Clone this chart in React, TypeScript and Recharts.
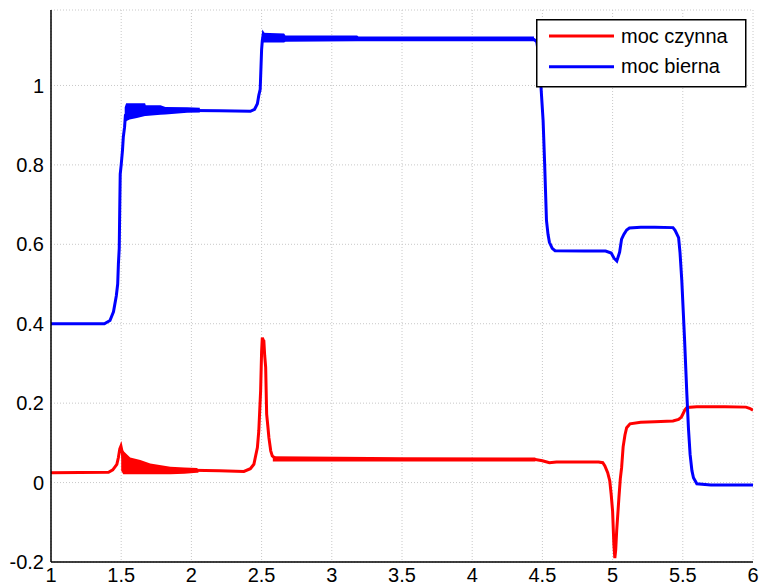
import React from 'react';
import { ComposedChart, Line, Area, XAxis, YAxis, CartesianGrid, Legend } from 'recharts';

// time axis ticks and value axis ticks
const xTicks = [1, 1.5, 2, 2.5, 3, 3.5, 4, 4.5, 5, 5.5, 6];
const yTicks = [-0.2, 0, 0.2, 0.4, 0.6, 0.8, 1];

// series names
const seriesNames = ['moc czynna', 'moc bierna'];

// moc czynna (active power): [t, value]
const mocCzynna: [number, number][] = [
  [1.0, 0.025], [1.41, 0.026], [1.44, 0.032], [1.469, 0.046], [1.48, 0.063], [1.49, 0.085],
  [1.498, 0.092], [1.505, 0.08], [1.515, 0.06], [1.53, 0.045], [1.6, 0.04], [1.7, 0.035],
  [1.85, 0.032], [2.0, 0.031], [2.2, 0.03], [2.374, 0.028], [2.42, 0.035], [2.445, 0.046],
  [2.47, 0.088], [2.48, 0.13], [2.493, 0.231], [2.5, 0.33], [2.505, 0.365], [2.51, 0.36],
  [2.516, 0.357], [2.522, 0.32], [2.529, 0.29], [2.536, 0.172], [2.545, 0.14], [2.552, 0.113],
  [2.565, 0.08], [2.576, 0.067], [2.6, 0.06], [3.0, 0.059], [3.5, 0.058], [4.0, 0.058],
  [4.45, 0.058], [4.5, 0.055], [4.55, 0.05], [4.6, 0.052], [4.9, 0.052], [4.93, 0.05],
  [4.945, 0.042], [4.965, 0.025], [4.98, 0.004], [4.99, -0.03], [5.0, -0.072], [5.009, -0.156],
  [5.016, -0.19], [5.022, -0.17], [5.029, -0.122], [5.045, -0.038], [5.055, 0.01], [5.064, 0.037],
  [5.075, 0.09], [5.088, 0.12], [5.1, 0.138], [5.124, 0.148], [5.2, 0.152], [5.3, 0.153],
  [5.43, 0.155], [5.47, 0.159], [5.49, 0.165], [5.5, 0.172], [5.515, 0.183], [5.53, 0.189],
  [5.6, 0.191], [5.8, 0.191], [5.95, 0.19], [5.975, 0.187], [6.0, 0.182],
];

// moc bierna (reactive power): [t, value]
const mocBierna: [number, number][] = [
  [1.0, 0.4], [1.38, 0.4], [1.42, 0.408], [1.445, 0.43], [1.465, 0.47], [1.475, 0.5],
  [1.48, 0.55], [1.486, 0.59], [1.49, 0.7], [1.493, 0.777], [1.5, 0.8], [1.509, 0.836],
  [1.515, 0.87], [1.524, 0.895], [1.53, 0.925], [1.56, 0.933], [1.6, 0.935], [1.7, 0.937],
  [1.8, 0.937], [2.0, 0.937], [2.2, 0.936], [2.42, 0.935], [2.45, 0.94], [2.47, 0.954],
  [2.48, 0.975], [2.49, 0.99], [2.495, 1.04], [2.5, 1.09], [2.505, 1.113], [2.512, 1.13],
  [2.53, 1.12], [3.0, 1.118], [3.5, 1.117], [4.0, 1.117], [4.44, 1.116], [4.46, 1.11],
  [4.48, 1.06], [4.49, 0.996], [4.505, 0.912], [4.516, 0.803], [4.529, 0.66], [4.54, 0.625],
  [4.55, 0.605], [4.57, 0.59], [4.59, 0.584], [4.8, 0.583], [4.95, 0.583], [4.99, 0.578],
  [5.01, 0.565], [5.03, 0.558], [5.05, 0.58], [5.064, 0.613], [5.08, 0.625], [5.1, 0.636],
  [5.12, 0.641], [5.2, 0.643], [5.3, 0.643], [5.43, 0.642], [5.445, 0.635], [5.47, 0.617],
  [5.48, 0.58], [5.493, 0.508], [5.512, 0.365], [5.529, 0.222], [5.54, 0.138], [5.552, 0.071],
  [5.565, 0.03], [5.576, 0.012], [5.6, -0.003], [5.7, -0.006], [6.0, -0.006],
];

// oscillation envelopes: [t, low, high]
const czynnaBand: [number, number, number][] = [
  [1.5, 0.03, 0.09], [1.515, 0.021, 0.08], [1.529, 0.021, 0.075], [1.564, 0.021, 0.063],
  [1.636, 0.021, 0.057], [1.707, 0.021, 0.048], [1.85, 0.021, 0.04], [1.95, 0.022, 0.038],
  [2.04, 0.025, 0.037], [2.05, 0.025, 0.033],
];
const czynnaBand2: [number, number, number][] = [
  [2.58, 0.053, 0.066], [3.5, 0.053, 0.064], [4.45, 0.053, 0.063],
];
const biernaBand: [number, number, number][] = [
  [1.525, 0.905, 0.945], [1.535, 0.91, 0.955], [1.56, 0.914, 0.955], [1.612, 0.918, 0.955],
  [1.67, 0.923, 0.955], [1.675, 0.923, 0.95], [1.78, 0.926, 0.95], [1.815, 0.927, 0.946],
  [1.97, 0.931, 0.945], [2.06, 0.932, 0.944],
];
const biernaBand2: [number, number, number][] = [
  [2.505, 1.108, 1.133], [2.66, 1.108, 1.131], [2.67, 1.11, 1.126], [3.18, 1.111, 1.126],
  [3.19, 1.111, 1.123], [4.44, 1.111, 1.123],
];

const toPts = (a: [number, number][]) => a.map(([t, v]) => ({ t, v }));
const toBand = (a: [number, number, number][]) => a.map(([t, lo, hi]) => ({ t, r: [lo, hi] }));

const RED = '#ff0000';
const BLUE = '#0000ff';
const FONT = '"Liberation Sans", Arial, Helvetica, sans-serif';

const renderLegend = (props: any) => {
  const payload = (props.payload || [])
    .filter((p: any) => p.type !== 'none' && seriesNames.includes(p.value))
    .sort((a: any, b: any) => seriesNames.indexOf(a.value) - seriesNames.indexOf(b.value));
  return (
    <svg width={212} height={70} style={{ display: 'block' }}>
      <rect x={0.75} y={0.75} width={209} height={67} fill="#fff" stroke="#000" strokeWidth={1.5} />
      {payload.map((p: any, i: number) => {
        const cy = 17 + i * 30.7;
        return (
          <g key={i}>
            <line x1={13} x2={78} y1={cy} y2={cy} stroke={p.color} strokeWidth={3} />
            <text x={85} y={cy} dy="0.33em" fontSize={20} fontFamily={FONT} fill="#000">
              {p.value}
            </text>
          </g>
        );
      })}
    </svg>
  );
};

export default function App() {
  return (
    <div style={{ position: 'absolute', left: 0, top: 0, width: 760, height: 585, background: '#fff' }}>
      <ComposedChart
        width={760}
        height={585}
        margin={{ top: 10, right: 7, bottom: 0, left: 0 }}
        style={{ fontFamily: FONT }}
      >
        <CartesianGrid stroke="#c8c8c8" strokeDasharray="1 2" horizontal vertical />
        <XAxis
          type="number"
          dataKey="t"
          domain={[1, 6]}
          ticks={xTicks}
          allowDataOverflow
          height={23}
          tickLine={false}
          tickSize={0}
          tickMargin={6}
          axisLine={{ stroke: '#000', strokeWidth: 1.5 }}
          tick={{ fill: '#000', fontSize: 20, fontFamily: FONT }}
          interval={0}
        />
        <YAxis
          type="number"
          domain={[-0.2, 1.19]}
          ticks={yTicks}
          allowDataOverflow
          width={51}
          tickLine={false}
          tickSize={0}
          tickMargin={7}
          axisLine={{ stroke: '#000', strokeWidth: 1.5 }}
          tick={{ fill: '#000', fontSize: 20, fontFamily: FONT }}
          interval={0}
        />
        <Area data={toBand(czynnaBand)} dataKey="r" type="linear" stroke="none" fill={RED} fillOpacity={1} isAnimationActive={false} legendType="none" />
        <Area data={toBand(czynnaBand2)} dataKey="r" type="linear" stroke="none" fill={RED} fillOpacity={1} isAnimationActive={false} legendType="none" />
        <Line data={toPts(mocCzynna)} dataKey="v" name={seriesNames[0]} type="linear" stroke={RED} strokeWidth={3} dot={false} isAnimationActive={false} />
        <Area data={toBand(biernaBand)} dataKey="r" type="linear" stroke="none" fill={BLUE} fillOpacity={1} isAnimationActive={false} legendType="none" />
        <Area data={toBand(biernaBand2)} dataKey="r" type="linear" stroke="none" fill={BLUE} fillOpacity={1} isAnimationActive={false} legendType="none" />
        <Line data={toPts(mocBierna)} dataKey="v" name={seriesNames[1]} type="linear" stroke={BLUE} strokeWidth={3} dot={false} isAnimationActive={false} />
        <Legend
          layout="vertical"
          align="center"
          verticalAlign="middle"
          content={renderLegend}
          wrapperStyle={{ position: 'absolute', left: 536, top: 19, width: 212, height: 70 }}
        />
      </ComposedChart>
    </div>
  );
}
